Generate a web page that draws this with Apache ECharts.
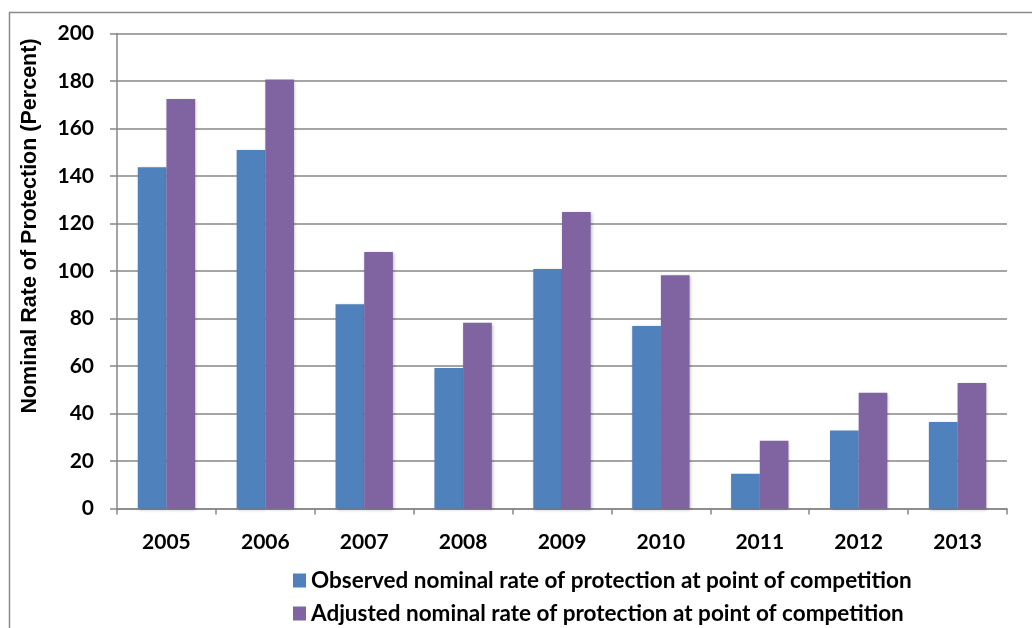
<!DOCTYPE html>
<html>
<head>
<meta charset="utf-8">
<style>
  html, body { margin: 0; padding: 0; background: #ffffff; }
  #chart { width: 1032px; height: 628px; }
</style>
<script src="https://cdn.jsdelivr.net/npm/echarts@6/dist/echarts.min.js"></script>
</head>
<body>
<div id="chart"></div>
<script>
// Years on the category axis
const years = ['2005', '2006', '2007', '2008', '2009', '2010', '2011', '2012', '2013'];

// Nominal rate of protection (percent)
const observedRates = [143.7, 150.9, 86.0, 59.2, 100.8, 76.8, 14.6, 32.8, 36.4];
const adjustedRates = [172.4, 180.6, 108.0, 78.2, 124.8, 98.2, 28.5, 48.7, 52.8];

// Series names shown in the legend
const seriesNames = [
  'Observed nominal rate of protection at point of competition',
  'Adjusted nominal rate of protection at point of competition'
];

const axisTitle = 'Nominal Rate of Protection (Percent)';

const labelFont = 'Lato, "Open Sans", sans-serif';
const gridGrey = '#878787';

const legendText = { fontFamily: labelFont, fontWeight: 'bold', fontSize: 22.5, color: '#000' };

function legendRow(name, top) {
  return {
    orient: 'horizontal',
    left: 293,
    top: top,
    padding: 0,
    itemWidth: 13,
    itemHeight: 14,
    icon: 'rect',
    textStyle: legendText,
    data: [name]
  };
}

const chart = echarts.init(document.getElementById('chart'), null, { renderer: 'canvas' });

chart.setOption({
  animation: false,
  backgroundColor: '#ffffff',
  graphic: [
    {
      type: 'rect',
      shape: { x: 9.5, y: 12.5, width: 1040, height: 640 },
      style: { fill: 'none', stroke: '#8a8a8a', lineWidth: 1.5 },
      silent: true,
      z: -10
    },
    {
      type: 'text',
      x: 30,
      y: 226,
      rotation: Math.PI / 2,
      style: {
        text: axisTitle,
        fontFamily: '"Liberation Sans", Arial, sans-serif',
        fontWeight: 'bold',
        fontSize: 21.5,
        fill: '#000',
        align: 'center',
        verticalAlign: 'middle'
      },
      silent: true
    }
  ],
  grid: { left: 117, right: 25, top: 33.5, bottom: 119.5, containLabel: false },
  legend: [
    legendRow(seriesNames[0], 569),
    legendRow(seriesNames[1], 602)
  ],
  xAxis: {
    type: 'category',
    data: years,
    axisLine: { lineStyle: { color: gridGrey, width: 1.5 } },
    axisTick: { show: true, length: 6, alignWithLabel: false, lineStyle: { color: gridGrey, width: 1.5 } },
    axisLabel: { fontFamily: labelFont, fontWeight: 'bold', fontSize: 21, color: '#000', margin: 23 }
  },
  yAxis: {
    type: 'value',
    min: 0,
    max: 200,
    interval: 20,
    axisLine: { show: true, lineStyle: { color: gridGrey, width: 1.5 } },
    axisTick: { show: true, length: 7, lineStyle: { color: gridGrey, width: 1.5 } },
    axisLabel: { fontFamily: labelFont, fontWeight: 'bold', fontSize: 21, color: '#000', margin: 23 },
    splitLine: { lineStyle: { color: gridGrey, width: 1.5 } }
  },
  series: [
    {
      name: seriesNames[0],
      type: 'bar',
      data: observedRates,
      barGap: '0%',
      barCategoryGap: '42%',
      itemStyle: { color: '#4F81BD', shadowColor: 'rgba(0,0,0,0.25)', shadowBlur: 3, shadowOffsetX: 1, shadowOffsetY: 1 }
    },
    {
      name: seriesNames[1],
      type: 'bar',
      data: adjustedRates,
      barGap: '0%',
      barCategoryGap: '42%',
      itemStyle: { color: '#8064A2', shadowColor: 'rgba(0,0,0,0.25)', shadowBlur: 3, shadowOffsetX: 1, shadowOffsetY: 1 }
    }
  ]
});
</script>
</body>
</html>
